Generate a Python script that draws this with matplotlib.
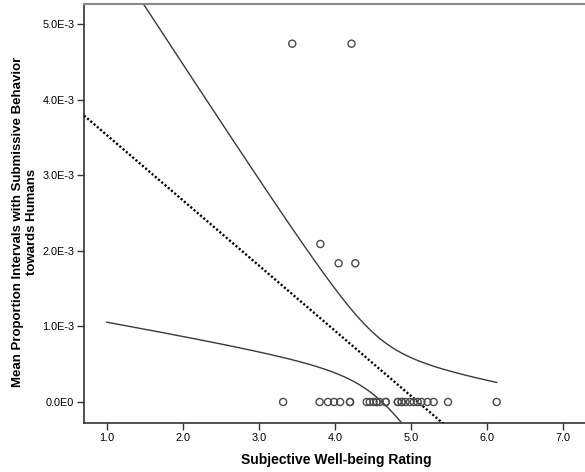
import numpy as np
from matplotlib import pyplot as plt

# well-being ratings with no submissive intervals observed
zero_x = [3.32, 3.80, 3.91, 3.99, 4.07, 4.20, 4.20, 4.42, 4.46, 4.51, 4.55, 4.55,
          4.59, 4.67, 4.67, 4.83, 4.83, 4.88, 4.88, 4.93, 4.99, 5.04, 5.09, 5.14,
          5.22, 5.30, 5.49, 6.13]
# ratings with non-zero proportions
pos_x = [3.44, 4.22, 3.81, 4.05, 4.27]
pos_y = [4.74e-3, 4.74e-3, 2.09e-3, 1.835e-3, 1.835e-3]

xticks = [1.0, 2.0, 3.0, 4.0, 5.0, 6.0, 7.0]
yticks = [0.0, 1e-3, 2e-3, 3e-3, 4e-3, 5e-3]
ytick_labels = ["0.0E0", "1.0E-3", "2.0E-3", "3.0E-3", "4.0E-3", "5.0E-3"]

band_start = 1.0      # confidence band drawn from the scale minimum
t_crit = 2.040        # 95% two-sided, df = n - 2


def main():
        plt.rcParams['font.family'] = ['Liberation Sans', 'DejaVu Sans']
        x = np.array(zero_x + pos_x)
        y = np.array([0.0] * len(zero_x) + pos_y)
        n = len(x)

        # least squares fit and 95% band of the mean
        slope, icept = np.polyfit(x, y, 1)
        resid = y - (icept + slope * x)
        s = np.sqrt(np.sum(resid ** 2) / (n - 2))
        sxx = np.sum((x - x.mean()) ** 2)

        fig = plt.figure(figsize=(5.85, 4.72), dpi=100)
        ax = fig.add_axes([84 / 585, 49 / 472, 501.6 / 585, 419 / 472])

        xl = np.array([0.7, 7.3])
        ax.plot(xl, icept + slope * xl, color="black", lw=1.7,
                linestyle=(0, (0.9, 0.9)), zorder=3)

        xb = np.linspace(band_start, x.max(), 300)
        fit = icept + slope * xb
        half = t_crit * s * np.sqrt(1.0 / n + (xb - x.mean()) ** 2 / sxx)
        ax.plot(xb, fit + half, color="#3a3a3a", lw=1.0, zorder=2)
        ax.plot(xb, fit - half, color="#3a3a3a", lw=1.0, zorder=2)

        ax.scatter(x, y, s=26, facecolors="none", edgecolors="#4a4a4a",
                   linewidths=1.0, zorder=4)

        ax.set_xlim(0.7, 7.3)
        ax.set_ylim(-0.278e-3, 5.265e-3)
        ax.set_xticks(xticks)
        ax.set_xticklabels(["%.1f" % v for v in xticks], fontsize=7.8)
        ax.set_yticks(yticks)
        ax.set_yticklabels(ytick_labels, fontsize=7.8)
        ax.tick_params(direction="out", length=5, width=1, color="#333333", pad=2)

        for side in ["left", "bottom"]:
            ax.spines[side].set_color("#333333")
            ax.spines[side].set_linewidth(1.2)
        ax.spines["top"].set_color("#888888")
        ax.spines["top"].set_linewidth(1.5)

        fig.text(336 / 585, 1 - 460 / 472, "Subjective Well-being Rating",
                 fontsize=10, fontweight="bold", ha="center", va="center")
        fig.text(25 / 585, 1 - 222 / 472,
                 "Mean Proportion Intervals with Submissive Behavior\ntowards Humans",
                 fontsize=9.5, fontweight="bold", ha="center", va="center",
                 rotation=90, linespacing=1.15)

        plt.savefig("out.png", dpi=100)


if __name__ == "__main__":
    main()
